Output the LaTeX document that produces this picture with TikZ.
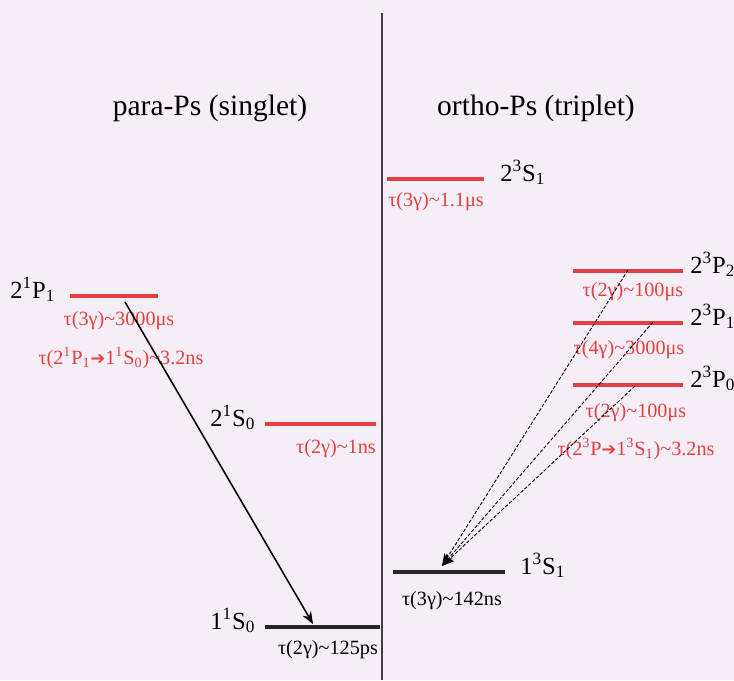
\documentclass[tikz,border=0pt]{standalone}
\usepackage{fontspec}
\setmainfont{Liberation Serif}
\newfontfamily\symfont{DejaVu Sans}
\usepackage{tikz}
\usetikzlibrary{positioning, arrows.meta}
\definecolor{bgpink}{RGB}{246,238,246}
\definecolor{lvlred}{RGB}{226,64,64}
\newcommand{\toarr}{{\symfont\fontsize{10}{12}\selectfont ➔}}

\begin{document}
\begin{tikzpicture}[>={Stealth[length=7pt,width=5.5pt]}, x=0.02cm, y=-0.02cm,
  lvl/.style={line width=2.7pt, lvlred},
  gnd/.style={line width=2.7pt, black!85},
  lbl/.style={font=\fontsize{14}{16}\selectfont, anchor=base west, inner sep=0pt},
  life/.style={font=\fontsize{11.5}{13}\selectfont, text=lvlred, inner sep=0pt},
  ttl/.style={font=\fontsize{16.8}{20}\selectfont, inner sep=0pt},
  decay/.style={->, line width=0.5pt, dash pattern=on 2pt off 1pt}]
  % background and frame
  \fill[bgpink] (0,0) rectangle (734,680);
  \useasboundingbox (0,0) rectangle (734,680);
  \draw[line width=0.8pt, black!75] (382,13) -- (382,680);
  \node[ttl] (para) at (210,108) {para-Ps (singlet)};
  \node[ttl] (ortho) at (536,108) {ortho-Ps (triplet)};

  % para-Ps levels
  \draw[lvl] (70,296) -- (158,296);
  \node[lbl] (P1s) at (10,298) {2\textsuperscript{1}P\textsubscript{1}};
  \node[life] (tP1a) at (119,321) {τ(3γ)\textasciitilde 3000μs};
  \node[life] (tP1b) at (121,358) {τ(2\textsuperscript{1}P\textsubscript{1}\toarr 1\textsuperscript{1}S\textsubscript{0})\textasciitilde 3.2ns};
  \draw[lvl] (265,424) -- (376,424);
  \node[lbl] (S0x) at (210,426) {2\textsuperscript{1}S\textsubscript{0}};
  \node[life] (tS0x) at (336,449) {τ(2γ)\textasciitilde 1ns};
  \draw[gnd] (265,627) -- (380,627);
  \node[lbl] (S0g) at (210,629) {1\textsuperscript{1}S\textsubscript{0}};
  \node[life, text=black] (tS0g) at (328,650) {τ(2γ)\textasciitilde 125ps};
  \coordinate (fromP1) at (125,302);
  \coordinate (toS0) at (313,624);
  \draw[->, line width=0.9pt] (fromP1) -- (toS0);

  % ortho-Ps levels
  \draw[lvl] (387,179) -- (484,179);
  \node[lbl] (S1x) at (500,181) {2\textsuperscript{3}S\textsubscript{1}};
  \node[life] (tS1x) at (436,202) {τ(3γ)\textasciitilde 1.1μs};
  \draw[lvl] (573,271) -- (683,271);
  \node[lbl] (P2t) at (690,273) {2\textsuperscript{3}P\textsubscript{2}};
  \node[life] (tP2t) at (633,292) {τ(2γ)\textasciitilde 100μs};
  \draw[lvl] (573,323) -- (683,323);
  \node[lbl] (P1t) at (690,325) {2\textsuperscript{3}P\textsubscript{1}};
  \node[life] (tP1t) at (629,350) {τ(4γ)\textasciitilde 3000μs};
  \draw[lvl] (573,385) -- (683,385);
  \node[lbl] (P0t) at (690,387) {2\textsuperscript{3}P\textsubscript{0}};
  \node[life] (tP0t) at (636,413) {τ(2γ)\textasciitilde 100μs};
  \node[life] (tPS) at (636,449) {τ(2\textsuperscript{3}P\toarr 1\textsuperscript{3}S\textsubscript{1})\textasciitilde 3.2ns};
  \draw[gnd] (393,572) -- (505,572);
  \node[lbl] (S1g) at (520,574) {1\textsuperscript{3}S\textsubscript{1}};
  \node[life, text=black] (tS1g) at (452,601) {τ(3γ)\textasciitilde 142ns};
  \coordinate (fromP2) at (628,270);
  \coordinate (fromP1t) at (653,322);
  \coordinate (fromP0) at (635,386);
  \coordinate (toS1) at (442,566);
  \foreach \s in {fromP2, fromP1t, fromP0}
    \draw[decay] (\s) -- (toS1);
\end{tikzpicture}
\end{document}
